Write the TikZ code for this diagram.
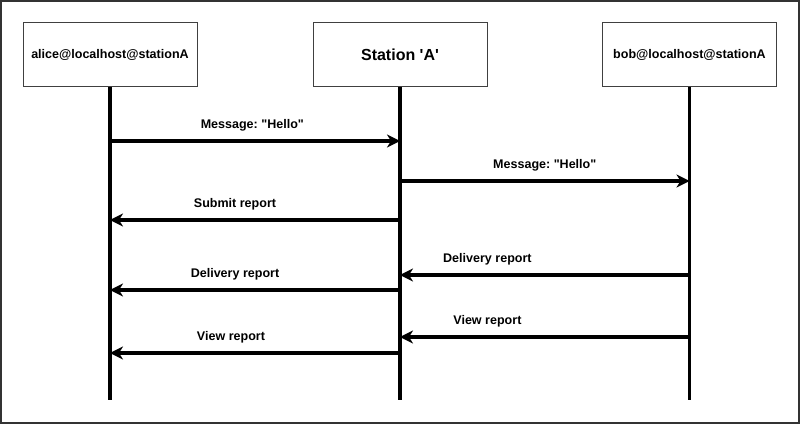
\documentclass[tikz,border=0pt]{standalone}
\usepackage{fontspec}
\setmainfont{Liberation Sans}[Ligatures=TeXOff]
\usetikzlibrary{arrows.meta}
\frenchspacing
\begin{document}
\begin{tikzpicture}[x=0.75pt,y=-0.75pt,
  actor/.style={draw=black!75,line width=0.75pt,minimum width=130.5pt,minimum height=48pt,inner sep=0pt,font=\bfseries\fontsize{9.4}{11}\selectfont},
  life/.style={line width=2.3pt,black},
  msg/.style={line width=2.3pt,black,-{Stealth[length=9.75pt,width=9.75pt,inset=3pt]}},
  lbl/.style={font=\bfseries\fontsize{9.4}{11}\selectfont,inner sep=0pt}]
\useasboundingbox (0,0) rectangle (800,424);
\fill[white] (0,0) rectangle (800,424);
\draw[line width=1.2pt,black!80] (0.8,0.8) rectangle (799.2,422.8);
% actors
\node[actor] (alice) at (110,55) {alice@localhost@stationA};
\node[actor,font=\bfseries\fontsize{12}{14}\selectfont] (station) at (400,55) {Station 'A'};
\node[actor] (bob) at (689.5,55) {bob@localhost@stationA};
% lifeline ends
\coordinate (aend) at (110,400);
\coordinate (send) at (400,400);
\coordinate (bend) at (689.5,400);
\draw[life] (alice.south) -- (aend);
\draw[life] (station.south) -- (send);
\draw[life] (bob.south) -- (bend);
% messages
\coordinate (a1) at (110,141); \coordinate (s1) at (400,141);
\draw[msg] (a1) -- node[lbl,above=6pt,xshift=-2pt] {Message: "Hello"} (s1);
\coordinate (s2) at (400,181); \coordinate (b2) at (689.5,181);
\draw[msg] (s2) -- node[lbl,above=6pt] {Message: "Hello"} (b2);
\coordinate (s3) at (400,220); \coordinate (a3) at (110,220);
\draw[msg] (s3) -- node[lbl,above=6pt,xshift=-15pt] {Submit report} (a3);
\coordinate (b4) at (689.5,275); \coordinate (s4) at (400,275);
\draw[msg] (b4) -- node[lbl,above=6pt,xshift=-43pt] {Delivery report} (s4);
\coordinate (s5) at (400,290); \coordinate (a5) at (110,290);
\draw[msg] (s5) -- node[lbl,above=6pt,xshift=-15pt] {Delivery report} (a5);
\coordinate (b6) at (689.5,337); \coordinate (s6) at (400,337);
\draw[msg] (b6) -- node[lbl,above=6pt,xshift=-43pt] {View report} (s6);
\coordinate (s7) at (400,353); \coordinate (a7) at (110,353);
\draw[msg] (s7) -- node[lbl,above=6pt,xshift=-18pt] {View report} (a7);
\end{tikzpicture}
\end{document}
